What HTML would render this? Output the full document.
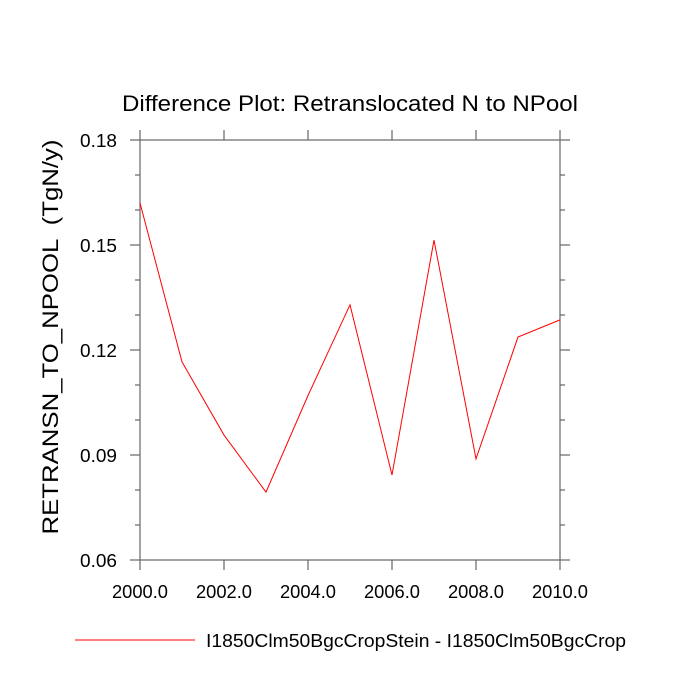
<!DOCTYPE html>
<html><head><meta charset="utf-8"><style>
html,body{margin:0;padding:0;background:#fff;}
svg{display:block;font-family:"Liberation Sans",Arial,sans-serif;}
</style></head><body>
<svg id="chart" width="700" height="700">
<text x="350" y="111" font-size="22" text-anchor="middle" textLength="456" lengthAdjust="spacingAndGlyphs">Difference Plot: Retranslocated N to NPool</text>
<text transform="translate(58,337) rotate(-90)" font-size="22" text-anchor="middle" xml:space="preserve" textLength="395" lengthAdjust="spacingAndGlyphs">RETRANSN_TO_NPOOL  (TgN/y)</text>
<g id="axes"></g>
<g id="series"></g>
<line x1="75" y1="640" x2="195" y2="640" stroke="#ff0000" stroke-width="1"/>
<text x="206" y="647" font-size="18" textLength="420" lengthAdjust="spacingAndGlyphs">I1850Clm50BgcCropStein - I1850Clm50BgcCrop</text>
</svg>
<script>
const years = [2000,2001,2002,2003,2004,2005,2006,2007,2008,2009,2010];
const values = [0.162,0.1166,0.0957,0.0794,0.107,0.1329,0.0843,0.1514,0.0889,0.1237,0.1286];
const yTicks = [0.06,0.09,0.12,0.15,0.18];
const yTickLabels = ["0.06","0.09","0.12","0.15","0.18"];
const xTicks = [2000,2002,2004,2006,2008,2010];
const xTickLabels = ["2000.0","2002.0","2004.0","2006.0","2008.0","2010.0"];
const yMinorTicks = [0.07,0.08,0.10,0.11,0.13,0.14,0.16,0.17];

const L=140,R=560,T=140,B=560;
const xs = v => L + (v-2000)/(2010-2000)*(R-L);
const ys = v => B - (v-0.06)/(0.18-0.06)*(B-T);
const NS="http://www.w3.org/2000/svg";
const axes=document.getElementById('axes');
const series=document.getElementById('series');
function ln(x1,y1,x2,y2,name){
  const l=document.createElementNS(NS,'line');
  l.setAttribute('x1',x1);l.setAttribute('y1',y1);l.setAttribute('x2',x2);l.setAttribute('y2',y2);
  l.setAttribute('stroke','#666');l.setAttribute('stroke-width','1.2');
  
  
  axes.appendChild(l);
}
function tx(x,y,s,anchor,name,len){
  const t=document.createElementNS(NS,'text');
  t.setAttribute('x',x);t.setAttribute('y',y);t.setAttribute('font-size','18');t.setAttribute('text-anchor',anchor);
  t.setAttribute('textLength',len);t.setAttribute('lengthAdjust','spacingAndGlyphs');
  t.textContent=s;
  
  
  axes.appendChild(t);
}
const fr=document.createElementNS(NS,'rect');
fr.setAttribute('x',L);fr.setAttribute('y',T);fr.setAttribute('width',R-L);fr.setAttribute('height',B-T);
fr.setAttribute('fill','none');fr.setAttribute('stroke','#666');fr.setAttribute('stroke-width','1.2');


axes.appendChild(fr);
yTicks.forEach((v,i)=>{
  const y=ys(v);
  ln(L-10,y,L,y,'y-tick');ln(R,y,R+10,y,'y-tick-right');
  tx(L-23,y+7,yTickLabels[i],'end','y-tick-label',37);
});
yMinorTicks.forEach(v=>{const y=ys(v);ln(L-5,y,L,y,'y-minor-tick');ln(R,y,R+5,y,'y-minor-tick-right');});
xTicks.forEach((v,i)=>{
  const x=xs(v);
  ln(x,B,x,B+10,'x-tick');ln(x,T-10,x,T,'x-tick-top');
  tx(x,B+38,xTickLabels[i],'middle','x-tick-label',56);
});
const p=document.createElementNS(NS,'polyline');
p.setAttribute('points',years.map((y,i)=>xs(y)+','+ys(values[i])).join(' '));
p.setAttribute('fill','none');p.setAttribute('stroke','#ff0000');p.setAttribute('stroke-width','1');


series.appendChild(p);
</script>
</body></html>
